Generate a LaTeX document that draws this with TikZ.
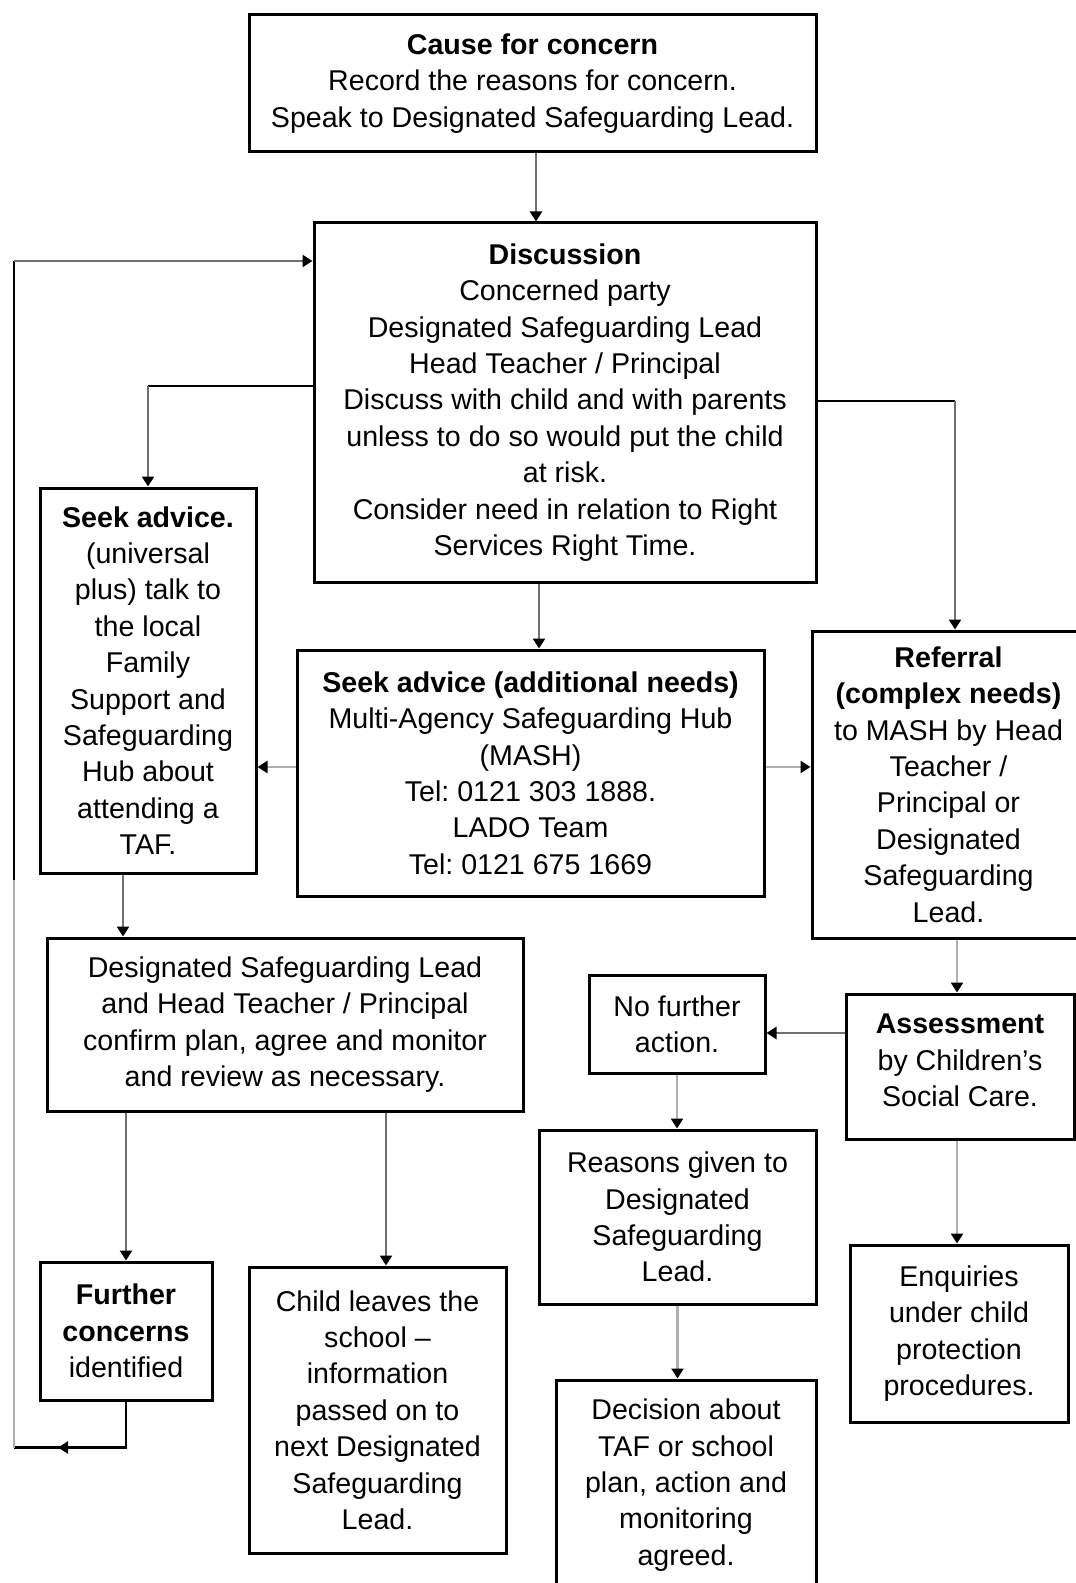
\documentclass[tikz,border=0pt]{standalone}
\usepackage{fontspec}
\setmainfont{Liberation Sans}
\usetikzlibrary{arrows.meta,calc}
\definecolor{dgray}{HTML}{707070}
\definecolor{lgray}{HTML}{B0B0B0}
\frenchspacing
\begin{document}
\begin{tikzpicture}[x=0.5pt,y=-0.5pt,
  box/.style={draw, line width=1.5pt, align=center, inner sep=0pt,
    font=\fontsize{14.3}{18.2}\selectfont\frenchspacing},
  tip/.style={-{Triangle[width=6pt,length=5pt,color=black]}},
  conn/.style={line width=1.2pt, draw=#1, tip},
  conn/.default=dgray,
  plain/.style={line width=1.2pt, draw=#1},
  plain/.default=black]
\useasboundingbox (0,0) rectangle (1075,1583);

\node[box, minimum width=283.5pt, minimum height=68.5pt] (cause) at (532.5,83.5)
  {\textbf{Cause for concern}\\Record the reasons for concern.\\Speak to Designated Safeguarding Lead.};
\node[box, minimum width=251pt, minimum height=179.5pt] (disc) at (565,402.5)
  {\textbf{Discussion}\\Concerned party\\Designated Safeguarding Lead\\Head Teacher / Principal\\Discuss with child and with parents\\unless to do so would put the child\\at risk.\\Consider need in relation to Right\\Services Right Time.};
\node[box, minimum width=108pt, minimum height=192.5pt] (seekL) at (148,680.5)
  {\textbf{Seek advice.}\\(universal\\plus) talk to\\the local\\Family\\Support and\\Safeguarding\\Hub about\\attending a\\TAF.};
\node[box, minimum width=233.5pt, minimum height=123pt] (mash) at (530.5,773)
  {\textbf{Seek advice (additional needs)}\\Multi-Agency Safeguarding Hub\\(MASH)\\Tel: 0121 303 1888.\\LADO Team\\Tel: 0121 675 1669};
\node[box, minimum width=136.5pt, minimum height=153.5pt] (ref) at (948.5,784.5)
  {\textbf{Referral}\\\textbf{(complex needs)}\\to MASH by Head\\Teacher /\\Principal or\\Designated\\Safeguarding\\Lead.};
\node[box, minimum width=238pt, minimum height=86.5pt] (dsl) at (285,1024.5)
  {Designated Safeguarding Lead\\and Head Teacher / Principal\\confirm plan, agree and monitor\\and review as necessary.};
\node[box, minimum width=88pt, minimum height=49pt] (nfa) at (677,1024)
  {No further\\action.};
\node[box, minimum width=114pt, minimum height=72.5pt] (assess) at (960,1066.5)
  {\textbf{Assessment}\\by Children's\\Social Care.\\[-12pt]\mbox{}};
\node[box, minimum width=138.5pt, minimum height=87pt] (reasons) at (677.5,1217)
  {Reasons given to\\Designated\\Safeguarding\\Lead.};
\node[box, minimum width=130pt, minimum height=105pt] (decision) at (686,1485)
  {Decision about\\TAF or school\\plan, action and\\monitoring\\agreed.};
\node[box, minimum width=109pt, minimum height=88.5pt] (enq) at (959,1333.5)
  {Enquiries\\under child\\protection\\procedures.};
\node[box, minimum width=86pt, minimum height=69pt] (further) at (126,1331)
  {\textbf{Further}\\\textbf{concerns}\\identified};
\node[box, minimum width=128.5pt, minimum height=143pt] (child) at (377.5,1410)
  {Child leaves the\\school --\\information\\passed on to\\next Designated\\Safeguarding\\Lead.};

% straight connectors
\draw[conn] ([xshift=1.75pt]cause.south) -- ([xshift=1.75pt]cause.south |- disc.north);
\draw[conn] ([xshift=4.25pt]mash.north |- disc.south) -- ([xshift=4.25pt]mash.north);
\draw[conn=lgray] ([yshift=3pt]mash.west) -- ([yshift=3pt]mash.west -| seekL.east);
\draw[conn=lgray] ([yshift=3pt]mash.east) -- ([yshift=3pt]mash.east -| ref.west);
\draw[conn] ([xshift=-12.5pt]seekL.south) -- ([xshift=-12.5pt]seekL.south |- dsl.north);
\draw[conn] (further.north |- dsl.south) -- (further.north);
\draw[conn] ([xshift=4.25pt]child.north |- dsl.south) -- ([xshift=4.25pt]child.north);
\draw[conn=lgray] ([xshift=-1.5pt]assess.north |- ref.south) -- ([xshift=-1.5pt]assess.north);
\draw[conn] ([yshift=-4.5pt]nfa.east -| assess.west) -- ([yshift=-4.5pt]nfa.east);
\draw[conn=lgray] (nfa.south) -- (nfa.south |- reasons.north);
\draw[conn=lgray] (reasons.south) -- (reasons.south |- decision.north);
\draw[conn=lgray] ([xshift=-1.5pt]assess.south) -- ([xshift=-1.5pt]assess.south |- enq.north);

% discussion to left seek advice
\coordinate (dl) at ([yshift=8.25pt]disc.west -| seekL.north);
\draw[plain] ([yshift=8.25pt]disc.west) -- (dl);
\draw[conn] (dl) -- (seekL.north);

% discussion to referral
\coordinate (rtop) at ([xshift=3.25pt]ref.north);
\coordinate (dr) at ([yshift=0.75pt]disc.east -| rtop);
\draw[plain] ([yshift=0.75pt]disc.east) -- (dr);
\draw[conn] (dr) -- (rtop);

% loop back from further concerns
\coordinate (dwl) at ([yshift=70.75pt]disc.west);
\coordinate (lmid) at (14,880);
\coordinate (lb) at ([yshift=-23pt]further.south);
\coordinate (lbl) at (lb -| lmid);
\coordinate (ltl) at (lmid |- dwl);
\draw[plain] (further.south) -- (lb) -- (lbl);
\draw[plain, tip] (lb) -- ($(lbl)+(44,0)$);
\draw[plain=lgray] (lbl) -- (lmid);
\draw[plain] (lmid) -- (ltl);
\draw[conn] (ltl) -- (dwl);
\end{tikzpicture}
\end{document}
